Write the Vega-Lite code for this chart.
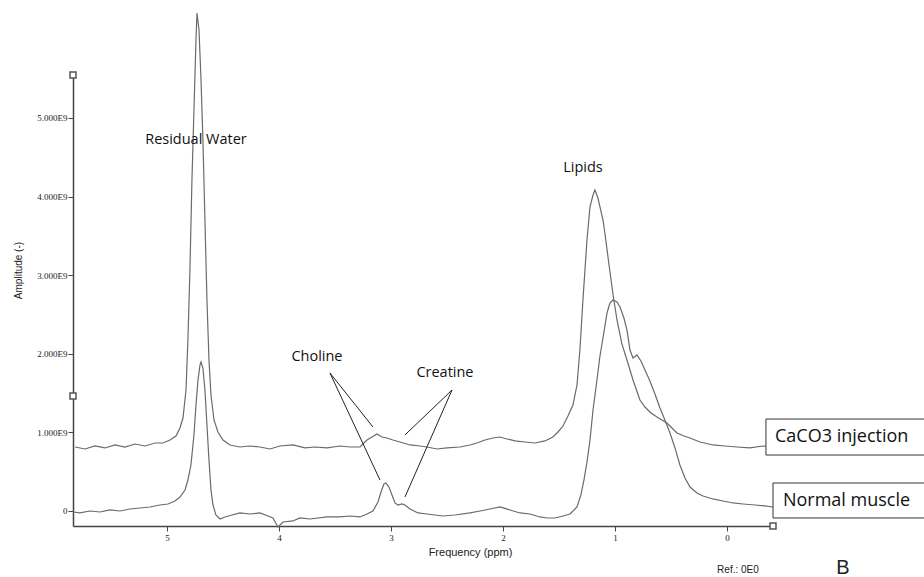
{
  "$schema": "https://vega.github.io/schema/vega-lite/v6.json",
  "width": 700,
  "height": 451,
  "autosize": {"type": "none"},
  "padding": {"left": 73, "top": 75, "right": 151, "bottom": 51},
  "background": "white",
  "config": {"view": {"stroke": null}},
  "encoding": {
    "x": {
      "field": "ppm", "type": "quantitative",
      "scale": {"domain": [-0.411, 5.839], "reverse": true, "nice": false, "zero": false},
      "axis": {
        "values": [0, 1, 2, 3, 4, 5], "grid": false,
        "labelFont": "Liberation Serif", "labelFontSize": 9, "labelColor": "#222", "labelPadding": 2,
        "tickSize": 5, "tickColor": "#444", "domainColor": "#444", "domainWidth": 1.5,
        "title": "Frequency (ppm)", "titleFont": "Liberation Sans", "titleFontSize": 11, "titleFontWeight": "normal", "titleColor": "#222",
        "titleX": 397, "titleY": 26, "titleBaseline": "middle", "titleAnchor": null, "titleAlign": "center"
      }
    },
    "y": {
      "field": "amp", "type": "quantitative",
      "scale": {"domain": [-0.191, 5.547], "nice": false, "zero": false},
      "axis": {
        "values": [0, 1, 2, 3, 4, 5], "grid": false,
        "labelExpr": "datum.value == 0 ? '0' : format(datum.value, '.3f') + 'E9'",
        "labelFont": "Liberation Serif", "labelFontSize": 9, "labelColor": "#222", "labelPadding": 1,
        "tickSize": 5, "tickColor": "#444", "domainColor": "#444", "domainWidth": 1.5,
        "title": "Amplitude (-)", "titleFont": "Liberation Sans", "titleFontSize": 10, "titleFontWeight": "normal", "titleColor": "#222",
        "titleX": -55, "titleY": 195, "titleAngle": 270, "titleAlign": "center", "titleBaseline": "middle"
      }
    }
  },
  "layer": [
    {
      "data": {"values": [
        {"series":"CaCO3 injection","ppm":5.821,"amp":0.814},{"series":"CaCO3 injection","ppm":5.732,"amp":0.789},{"series":"CaCO3 injection","ppm":5.643,"amp":0.827},{"series":"CaCO3 injection","ppm":5.554,"amp":0.802},{"series":"CaCO3 injection","ppm":5.464,"amp":0.84},{"series":"CaCO3 injection","ppm":5.375,"amp":0.814},{"series":"CaCO3 injection","ppm":5.286,"amp":0.852},{"series":"CaCO3 injection","ppm":5.196,"amp":0.827},{"series":"CaCO3 injection","ppm":5.107,"amp":0.865},{"series":"CaCO3 injection","ppm":5.036,"amp":0.865},{"series":"CaCO3 injection","ppm":4.973,"amp":0.903},{"series":"CaCO3 injection","ppm":4.92,"amp":0.954},{"series":"CaCO3 injection","ppm":4.884,"amp":1.056},{"series":"CaCO3 injection","ppm":4.857,"amp":1.183},{"series":"CaCO3 injection","ppm":4.83,"amp":1.539},{"series":"CaCO3 injection","ppm":4.813,"amp":2.176},{"series":"CaCO3 injection","ppm":4.795,"amp":3.066},{"series":"CaCO3 injection","ppm":4.777,"amp":4.211},{"series":"CaCO3 injection","ppm":4.759,"amp":5.102},{"series":"CaCO3 injection","ppm":4.741,"amp":5.992},{"series":"CaCO3 injection","ppm":4.732,"amp":6.336},{"series":"CaCO3 injection","ppm":4.714,"amp":6.12},{"series":"CaCO3 injection","ppm":4.696,"amp":5.483},{"series":"CaCO3 injection","ppm":4.679,"amp":4.72},{"series":"CaCO3 injection","ppm":4.661,"amp":3.702},{"series":"CaCO3 injection","ppm":4.643,"amp":2.684},{"series":"CaCO3 injection","ppm":4.625,"amp":1.921},{"series":"CaCO3 injection","ppm":4.607,"amp":1.476},{"series":"CaCO3 injection","ppm":4.58,"amp":1.158},{"series":"CaCO3 injection","ppm":4.545,"amp":1.005},{"series":"CaCO3 injection","ppm":4.5,"amp":0.903},{"series":"CaCO3 injection","ppm":4.438,"amp":0.84},{"series":"CaCO3 injection","ppm":4.348,"amp":0.814},{"series":"CaCO3 injection","ppm":4.259,"amp":0.827},{"series":"CaCO3 injection","ppm":4.17,"amp":0.814},{"series":"CaCO3 injection","ppm":4.08,"amp":0.789},{"series":"CaCO3 injection","ppm":3.991,"amp":0.827},{"series":"CaCO3 injection","ppm":3.875,"amp":0.84},{"series":"CaCO3 injection","ppm":3.768,"amp":0.802},{"series":"CaCO3 injection","ppm":3.679,"amp":0.814},{"series":"CaCO3 injection","ppm":3.571,"amp":0.802},{"series":"CaCO3 injection","ppm":3.455,"amp":0.827},{"series":"CaCO3 injection","ppm":3.366,"amp":0.814},{"series":"CaCO3 injection","ppm":3.277,"amp":0.814},{"series":"CaCO3 injection","ppm":3.214,"amp":0.903},{"series":"CaCO3 injection","ppm":3.17,"amp":0.941},{"series":"CaCO3 injection","ppm":3.125,"amp":0.98},{"series":"CaCO3 injection","ppm":3.08,"amp":0.941},{"series":"CaCO3 injection","ppm":3.036,"amp":0.929},{"series":"CaCO3 injection","ppm":2.982,"amp":0.903},{"series":"CaCO3 injection","ppm":2.92,"amp":0.878},{"series":"CaCO3 injection","ppm":2.83,"amp":0.84},{"series":"CaCO3 injection","ppm":2.741,"amp":0.827},{"series":"CaCO3 injection","ppm":2.679,"amp":0.814},{"series":"CaCO3 injection","ppm":2.589,"amp":0.789},{"series":"CaCO3 injection","ppm":2.5,"amp":0.802},{"series":"CaCO3 injection","ppm":2.384,"amp":0.814},{"series":"CaCO3 injection","ppm":2.295,"amp":0.84},{"series":"CaCO3 injection","ppm":2.232,"amp":0.865},{"series":"CaCO3 injection","ppm":2.161,"amp":0.903},{"series":"CaCO3 injection","ppm":2.089,"amp":0.929},{"series":"CaCO3 injection","ppm":2.027,"amp":0.941},{"series":"CaCO3 injection","ppm":1.964,"amp":0.916},{"series":"CaCO3 injection","ppm":1.893,"amp":0.891},{"series":"CaCO3 injection","ppm":1.804,"amp":0.878},{"series":"CaCO3 injection","ppm":1.714,"amp":0.865},{"series":"CaCO3 injection","ppm":1.625,"amp":0.891},{"series":"CaCO3 injection","ppm":1.554,"amp":0.941},{"series":"CaCO3 injection","ppm":1.509,"amp":1.005},{"series":"CaCO3 injection","ppm":1.464,"amp":1.081},{"series":"CaCO3 injection","ppm":1.42,"amp":1.209},{"series":"CaCO3 injection","ppm":1.375,"amp":1.349},{"series":"CaCO3 injection","ppm":1.339,"amp":1.603},{"series":"CaCO3 injection","ppm":1.313,"amp":2.048},{"series":"CaCO3 injection","ppm":1.286,"amp":2.684},{"series":"CaCO3 injection","ppm":1.268,"amp":3.066},{"series":"CaCO3 injection","ppm":1.25,"amp":3.448},{"series":"CaCO3 injection","ppm":1.223,"amp":3.868},{"series":"CaCO3 injection","ppm":1.196,"amp":4.02},{"series":"CaCO3 injection","ppm":1.179,"amp":4.084},{"series":"CaCO3 injection","ppm":1.152,"amp":3.982},{"series":"CaCO3 injection","ppm":1.134,"amp":3.868},{"series":"CaCO3 injection","ppm":1.107,"amp":3.702},{"series":"CaCO3 injection","ppm":1.089,"amp":3.524},{"series":"CaCO3 injection","ppm":1.054,"amp":3.142},{"series":"CaCO3 injection","ppm":1.018,"amp":2.761},{"series":"CaCO3 injection","ppm":0.982,"amp":2.43},{"series":"CaCO3 injection","ppm":0.938,"amp":2.125},{"series":"CaCO3 injection","ppm":0.893,"amp":1.921},{"series":"CaCO3 injection","ppm":0.839,"amp":1.667},{"series":"CaCO3 injection","ppm":0.777,"amp":1.412},{"series":"CaCO3 injection","ppm":0.732,"amp":1.323},{"series":"CaCO3 injection","ppm":0.679,"amp":1.247},{"series":"CaCO3 injection","ppm":0.625,"amp":1.196},{"series":"CaCO3 injection","ppm":0.58,"amp":1.158},{"series":"CaCO3 injection","ppm":0.536,"amp":1.12},{"series":"CaCO3 injection","ppm":0.491,"amp":1.056},{"series":"CaCO3 injection","ppm":0.446,"amp":0.992},{"series":"CaCO3 injection","ppm":0.384,"amp":0.954},{"series":"CaCO3 injection","ppm":0.33,"amp":0.929},{"series":"CaCO3 injection","ppm":0.241,"amp":0.878},{"series":"CaCO3 injection","ppm":0.125,"amp":0.84},{"series":"CaCO3 injection","ppm":0.018,"amp":0.827},{"series":"CaCO3 injection","ppm":-0.089,"amp":0.814},{"series":"CaCO3 injection","ppm":-0.205,"amp":0.802},{"series":"CaCO3 injection","ppm":-0.321,"amp":0.827},{"series":"CaCO3 injection","ppm":-0.411,"amp":0.814},
        {"series":"Normal muscle","ppm":5.839,"amp":-0.013},{"series":"Normal muscle","ppm":5.777,"amp":-0.025},{"series":"Normal muscle","ppm":5.688,"amp":0.0},{"series":"Normal muscle","ppm":5.598,"amp":-0.013},{"series":"Normal muscle","ppm":5.509,"amp":0.013},{"series":"Normal muscle","ppm":5.42,"amp":0.0},{"series":"Normal muscle","ppm":5.33,"amp":0.025},{"series":"Normal muscle","ppm":5.241,"amp":0.038},{"series":"Normal muscle","ppm":5.152,"amp":0.051},{"series":"Normal muscle","ppm":5.063,"amp":0.076},{"series":"Normal muscle","ppm":4.991,"amp":0.089},{"series":"Normal muscle","ppm":4.929,"amp":0.127},{"series":"Normal muscle","ppm":4.884,"amp":0.178},{"series":"Normal muscle","ppm":4.839,"amp":0.267},{"series":"Normal muscle","ppm":4.813,"amp":0.394},{"series":"Normal muscle","ppm":4.786,"amp":0.585},{"series":"Normal muscle","ppm":4.759,"amp":0.967},{"series":"Normal muscle","ppm":4.741,"amp":1.349},{"series":"Normal muscle","ppm":4.723,"amp":1.667},{"series":"Normal muscle","ppm":4.705,"amp":1.858},{"series":"Normal muscle","ppm":4.696,"amp":1.896},{"series":"Normal muscle","ppm":4.679,"amp":1.819},{"series":"Normal muscle","ppm":4.661,"amp":1.539},{"series":"Normal muscle","ppm":4.643,"amp":1.094},{"series":"Normal muscle","ppm":4.625,"amp":0.649},{"series":"Normal muscle","ppm":4.607,"amp":0.267},{"series":"Normal muscle","ppm":4.589,"amp":0.076},{"series":"Normal muscle","ppm":4.563,"amp":-0.051},{"series":"Normal muscle","ppm":4.527,"amp":-0.102},{"series":"Normal muscle","ppm":4.482,"amp":-0.076},{"series":"Normal muscle","ppm":4.42,"amp":-0.051},{"series":"Normal muscle","ppm":4.348,"amp":-0.025},{"series":"Normal muscle","ppm":4.259,"amp":-0.038},{"series":"Normal muscle","ppm":4.17,"amp":-0.025},{"series":"Normal muscle","ppm":4.098,"amp":-0.064},{"series":"Normal muscle","ppm":4.054,"amp":-0.089},{"series":"Normal muscle","ppm":4.009,"amp":-0.204},{"series":"Normal muscle","ppm":3.964,"amp":-0.14},{"series":"Normal muscle","ppm":3.875,"amp":-0.127},{"series":"Normal muscle","ppm":3.813,"amp":-0.089},{"series":"Normal muscle","ppm":3.723,"amp":-0.102},{"series":"Normal muscle","ppm":3.571,"amp":-0.076},{"series":"Normal muscle","ppm":3.455,"amp":-0.076},{"series":"Normal muscle","ppm":3.366,"amp":-0.064},{"series":"Normal muscle","ppm":3.277,"amp":-0.076},{"series":"Normal muscle","ppm":3.214,"amp":-0.038},{"series":"Normal muscle","ppm":3.161,"amp":0.0},{"series":"Normal muscle","ppm":3.116,"amp":0.115},{"series":"Normal muscle","ppm":3.089,"amp":0.242},{"series":"Normal muscle","ppm":3.063,"amp":0.344},{"series":"Normal muscle","ppm":3.045,"amp":0.356},{"series":"Normal muscle","ppm":3.018,"amp":0.305},{"series":"Normal muscle","ppm":2.991,"amp":0.204},{"series":"Normal muscle","ppm":2.964,"amp":0.102},{"series":"Normal muscle","ppm":2.938,"amp":0.076},{"series":"Normal muscle","ppm":2.902,"amp":0.089},{"series":"Normal muscle","ppm":2.875,"amp":0.076},{"series":"Normal muscle","ppm":2.83,"amp":0.025},{"series":"Normal muscle","ppm":2.759,"amp":-0.025},{"series":"Normal muscle","ppm":2.679,"amp":-0.038},{"series":"Normal muscle","ppm":2.536,"amp":-0.064},{"series":"Normal muscle","ppm":2.429,"amp":-0.051},{"series":"Normal muscle","ppm":2.295,"amp":-0.025},{"series":"Normal muscle","ppm":2.205,"amp":0.0},{"series":"Normal muscle","ppm":2.116,"amp":0.025},{"series":"Normal muscle","ppm":2.027,"amp":0.051},{"series":"Normal muscle","ppm":1.938,"amp":0.013},{"series":"Normal muscle","ppm":1.848,"amp":-0.025},{"series":"Normal muscle","ppm":1.759,"amp":-0.038},{"series":"Normal muscle","ppm":1.67,"amp":-0.076},{"series":"Normal muscle","ppm":1.607,"amp":-0.089},{"series":"Normal muscle","ppm":1.536,"amp":-0.089},{"series":"Normal muscle","ppm":1.464,"amp":-0.064},{"series":"Normal muscle","ppm":1.402,"amp":-0.038},{"series":"Normal muscle","ppm":1.339,"amp":0.051},{"series":"Normal muscle","ppm":1.304,"amp":0.204},{"series":"Normal muscle","ppm":1.277,"amp":0.394},{"series":"Normal muscle","ppm":1.25,"amp":0.623},{"series":"Normal muscle","ppm":1.223,"amp":0.903},{"series":"Normal muscle","ppm":1.196,"amp":1.285},{"series":"Normal muscle","ppm":1.161,"amp":1.667},{"series":"Normal muscle","ppm":1.134,"amp":1.972},{"series":"Normal muscle","ppm":1.107,"amp":2.201},{"series":"Normal muscle","ppm":1.071,"amp":2.519},{"series":"Normal muscle","ppm":1.045,"amp":2.646},{"series":"Normal muscle","ppm":1.018,"amp":2.684},{"series":"Normal muscle","ppm":0.982,"amp":2.659},{"series":"Normal muscle","ppm":0.955,"amp":2.595},{"series":"Normal muscle","ppm":0.92,"amp":2.455},{"series":"Normal muscle","ppm":0.893,"amp":2.303},{"series":"Normal muscle","ppm":0.866,"amp":2.048},{"series":"Normal muscle","ppm":0.839,"amp":1.947},{"series":"Normal muscle","ppm":0.804,"amp":1.985},{"series":"Normal muscle","ppm":0.768,"amp":1.908},{"series":"Normal muscle","ppm":0.732,"amp":1.794},{"series":"Normal muscle","ppm":0.688,"amp":1.654},{"series":"Normal muscle","ppm":0.643,"amp":1.489},{"series":"Normal muscle","ppm":0.598,"amp":1.31},{"series":"Normal muscle","ppm":0.554,"amp":1.158},{"series":"Normal muscle","ppm":0.509,"amp":0.992},{"series":"Normal muscle","ppm":0.464,"amp":0.802},{"series":"Normal muscle","ppm":0.42,"amp":0.585},{"series":"Normal muscle","ppm":0.375,"amp":0.42},{"series":"Normal muscle","ppm":0.33,"amp":0.305},{"series":"Normal muscle","ppm":0.268,"amp":0.229},{"series":"Normal muscle","ppm":0.214,"amp":0.191},{"series":"Normal muscle","ppm":0.125,"amp":0.153},{"series":"Normal muscle","ppm":0.036,"amp":0.127},{"series":"Normal muscle","ppm":-0.054,"amp":0.102},{"series":"Normal muscle","ppm":-0.143,"amp":0.089},{"series":"Normal muscle","ppm":-0.25,"amp":0.076},{"series":"Normal muscle","ppm":-0.339,"amp":0.064},{"series":"Normal muscle","ppm":-0.411,"amp":0.051}
      ]},
      "mark": {"type": "line", "color": "#6a6a6a", "strokeWidth": 1.2, "interpolate": "linear"},
      "encoding": {"detail": {"field": "series", "type": "nominal"}}
    },
    {
      "data": {"values": [
        {"label": "Choline", "ppm": 3.545, "amp": 1.756, "ppm2": 3.161, "amp2": 1.069},
        {"label": "Choline", "ppm": 3.545, "amp": 1.756, "ppm2": 3.098, "amp2": 0.394},
        {"label": "Creatine", "ppm": 2.455, "amp": 1.539, "ppm2": 2.875, "amp2": 0.967},
        {"label": "Creatine", "ppm": 2.455, "amp": 1.539, "ppm2": 2.875, "amp2": 0.178}
      ]},
      "mark": {"type": "rule", "color": "#222", "strokeWidth": 1},
      "encoding": {"x2": {"field": "ppm2"}, "y2": {"field": "amp2"}}
    },
    {
      "data": {"values": [
        {"label": "Residual Water", "ppm": 4.741, "amp": 4.72},
        {"label": "Lipids", "ppm": 1.286, "amp": 4.364},
        {"label": "Choline", "ppm": 3.661, "amp": 1.959},
        {"label": "Creatine", "ppm": 2.518, "amp": 1.756}
      ]},
      "mark": {"type": "text", "font": "Open Sans", "fontSize": 14.5, "color": "#111", "align": "center", "baseline": "middle"},
      "encoding": {"text": {"field": "label"}}
    },
    {
      "data": {"values": [
        {"series": "CaCO3 injection", "ppm": -0.348, "amp": 1.17, "ppm2": -1.9, "amp2": 0.712},
        {"series": "Normal muscle", "ppm": -0.411, "amp": 0.356, "ppm2": -1.9, "amp2": -0.089}
      ]},
      "mark": {"type": "rect", "fill": "white", "stroke": "#333", "strokeWidth": 1},
      "encoding": {"x2": {"field": "ppm2"}, "y2": {"field": "amp2"}}
    },
    {
      "data": {"values": [
        {"series": "CaCO3 injection", "ppm": -0.429, "amp": 0.941},
        {"series": "Normal muscle", "ppm": -0.5, "amp": 0.127}
      ]},
      "mark": {"type": "text", "font": "Open Sans", "fontSize": 18, "color": "#111", "align": "left", "baseline": "middle"},
      "encoding": {"text": {"field": "series"}}
    },
    {
      "data": {"values": [
        {"ppm": 5.839, "amp": 5.547},
        {"ppm": 5.839, "amp": 1.463},
        {"ppm": -0.411, "amp": -0.191}
      ]},
      "mark": {"type": "point", "shape": "square", "size": 36, "filled": true, "fill": "white", "stroke": "#555", "strokeWidth": 1.5, "opacity": 1}
    },
    {
      "data": {"values": [
        {"note": "Ref.: 0E0", "ppm": -0.098, "amp": -0.751, "size": "small"},
        {"note": "B", "ppm": -1.036, "amp": -0.725, "size": "large"}
      ]},
      "mark": {"type": "text", "font": "Liberation Sans", "color": "#222", "align": "center", "baseline": "middle"},
      "encoding": {
        "text": {"field": "note"},
        "size": {"field": "size", "type": "nominal", "scale": {"domain": ["small", "large"], "range": [10, 20]}, "legend": null}
      }
    }
  ]
}
